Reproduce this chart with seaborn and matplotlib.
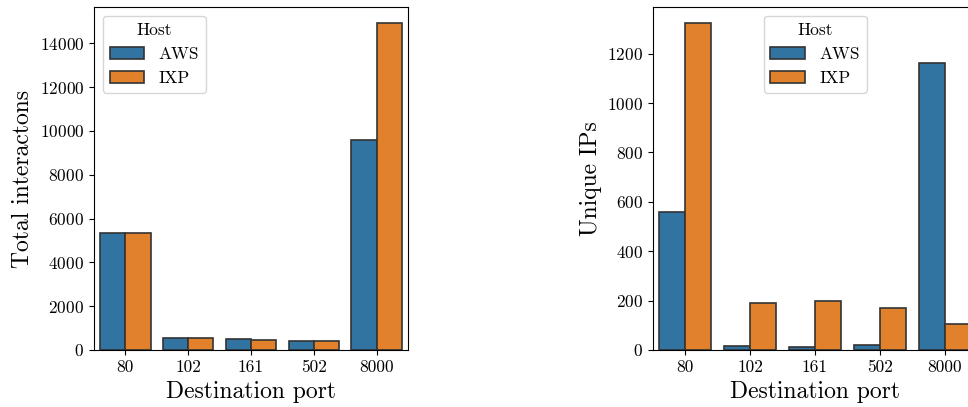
import matplotlib
matplotlib.use("Agg")
import matplotlib.pyplot as plt
import seaborn as sns
import pandas as pd

ports = ["80", "102", "161", "502", "8000"]
hosts = ["AWS", "IXP"]
total_aws = [5340, 560, 480, 410, 9575]
total_ixp = [5340, 550, 470, 400, 14910]
unique_aws = [557, 17, 12, 22, 1161]
unique_ixp = [1323, 189, 199, 172, 107]

plt.rcParams["font.family"] = "serif"
plt.rcParams["font.serif"] = ["cmr10", "DejaVu Serif"]
plt.rcParams["axes.formatter.use_mathtext"] = True
plt.rcParams["mathtext.fontset"] = "cm"

def long_df(aws, ixp, name):
    rows = []
    for p, a, i in zip(ports, aws, ixp):
        rows.append({"port": p, "Host": "AWS", name: a})
        rows.append({"port": p, "Host": "IXP", name: i})
    return pd.DataFrame(rows)

df_total = long_df(total_aws, total_ixp, "total")
df_unique = long_df(unique_aws, unique_ixp, "unique")

fig = plt.figure(figsize=(9.68, 4.07), dpi=100)
W, H = 968, 407
ax1 = fig.add_axes([94 / W, 57 / H, 314 / W, 343 / H])
ax2 = fig.add_axes([653 / W, 57 / H, 324 / W, 343 / H])

for ax, df, col, ylabel, loc in [
    (ax1, df_total, "total", "Total interactons", "upper left"),
    (ax2, df_unique, "unique", "Unique IPs", "upper center"),
]:
    sns.barplot(data=df, x="port", y=col, hue="Host", order=ports, hue_order=hosts,
                ax=ax, edgecolor=".2", linewidth=1.2, saturation=0.75)
    ax.set_xlabel("Destination port", fontsize=17)
    ax.set_ylabel(ylabel, fontsize=17)
    ax.tick_params(labelsize=12.5)
    leg = ax.legend(title="Host", loc=loc, fontsize=12.5, title_fontsize=12.5)

fig.savefig("out.png", dpi=100)
